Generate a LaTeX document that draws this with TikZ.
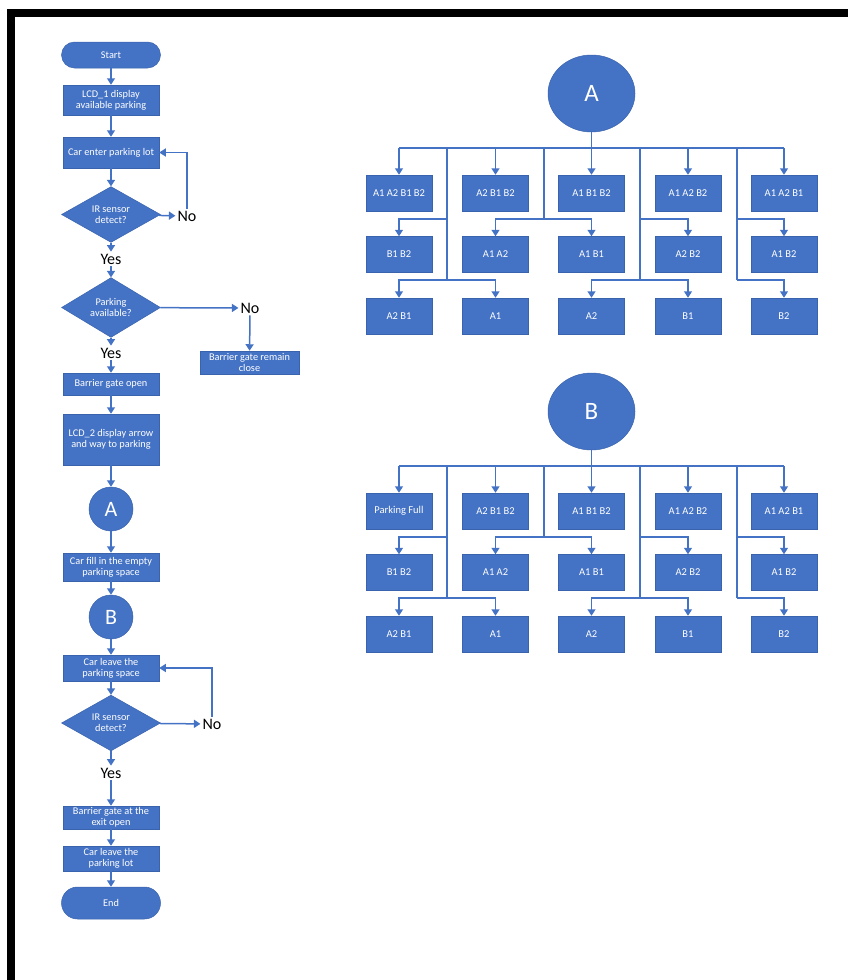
\documentclass[tikz,border=0pt]{standalone}
\usepackage{fontspec}
\setmainfont{Carlito}
\usetikzlibrary{shapes.geometric,arrows.meta}
\definecolor{obl}{HTML}{4472C4}
\definecolor{obd}{HTML}{3A63AD}
\begin{document}
\begin{tikzpicture}[x=1pt,y=-1pt,
  box/.style={fill=obl,draw=obd,line width=0.5pt,text=white,font=\fontsize{10.3}{11}\selectfont,align=center,inner sep=0.5pt,minimum width=96pt},
  term/.style={box,rounded corners=13pt,minimum width=99pt,minimum height=26pt},
  dec/.style={diamond,fill=obl,draw=obd,line width=0.5pt,text=white,font=\fontsize{10.3}{11}\selectfont,align=center,inner sep=0pt,minimum width=99pt,minimum height=51pt},
  circ/.style={circle,fill=obl,draw=obd,line width=0.5pt,text=white,inner sep=0pt,minimum size=44pt,font=\fontsize{22}{24}\selectfont},
  tell/.style={ellipse,fill=obl,draw=obd,line width=0.5pt,text=white,inner sep=0pt,minimum width=87pt,minimum height=77pt,font=\fontsize{25}{28}\selectfont},
  lab/.style={font=\fontsize{16}{18}\selectfont,text=black,inner sep=2pt},
  con/.style={draw=obl,line width=1.5pt},
  arr/.style={con,-{Triangle[length=6.5pt,width=8pt]}},
  tbox/.style={box,minimum width=66pt,minimum height=36pt,font=\fontsize{10.5}{12}\selectfont}
]
\useasboundingbox (0,0) rectangle (848,980);
% frame
\fill[black] (7,9) rectangle (848,17);
\fill[black] (7,9) rectangle (15,980);

% ---------- flowchart ----------
\node[term] (start) at (111,55) {Start};
\node[box,minimum height=30pt] (lcd1) at (111,100) {LCD\_1 display\\available parking};
\node[box,minimum height=31pt] (enter) at (111,152.5) {Car enter parking lot};
\node[dec] (ir1) at (111,214.5) {IR sensor\\detect?};
\node[lab] (no1) at (187,216) {No};
\node[lab] (yes1) at (111,259) {Yes};
\node[dec] (park) at (111,307.5) {Parking\\available?};
\node[lab] (no2) at (250,308) {No};
\node[box,minimum width=99pt,minimum height=23pt] (remain) at (249.5,362.5) {Barrier gate remain\\close};
\node[lab] (yes2) at (111,353) {Yes};
\node[box,minimum height=22pt] (gate) at (111,384) {Barrier gate open};
\node[box,minimum height=51pt] (lcd2) at (111,439.5) {LCD\_2 display arrow\\and way to parking};
\node[circ] (fa) at (111,509) {A};
\node[box,minimum height=28pt] (fill) at (111,567) {Car fill in the empty\\parking space};
\node[circ] (fb) at (111,617) {B};
\node[box,minimum height=26pt] (leave) at (111,668) {Car leave the\\parking space};
\node[dec] (ir2) at (111,723) {IR sensor\\detect?};
\node[lab] (no3) at (212,724) {No};
\node[lab] (yes3) at (111,773) {Yes};
\node[box,minimum height=23pt] (exit) at (111,817.5) {Barrier gate at the\\exit open};
\node[box,minimum height=25pt] (lot) at (111,858.5) {Car leave the\\parking lot};
\node[term,minimum height=32pt,rounded corners=16pt] (end) at (111,903) {End};

\draw[arr] (start) -- (lcd1);
\draw[arr] (lcd1) -- (enter);
\draw[arr] (enter) -- (ir1);
\draw[arr] (ir1) -- (no1);
\draw[arr] (no1.north) |- (enter.east);
\draw[arr] (ir1) -- (yes1);
\draw[arr] (yes1) -- (park);
\draw[arr] (park) -- (no2);
\draw[arr] (no2) -- (remain);
\draw[arr] (park) -- (yes2);
\draw[arr] (yes2) -- (gate);
\draw[arr] (gate) -- (lcd2);
\draw[arr] (lcd2) -- (fa);
\draw[arr] (fa) -- (fill);
\draw[arr] (fill) -- (fb);
\draw[arr] (fb) -- (leave);
\draw[arr] (leave) -- (ir2);
\draw[arr] (ir2) -- (no3);
\draw[arr] (no3.north) |- (leave.east);
\draw[arr] (ir2) -- (yes3);
\draw[arr] (yes3) -- (exit);
\draw[arr] (exit) -- (lot);
\draw[arr] (lot) -- (end);

% ---------- trees ----------
\foreach \tn/\dy/\first in {A/0/{A1 A2 B1 B2},B/318/{Parking Full}}{
\begin{scope}[shift={(0,\dy)}]
  \node[tell] (\tn root) at (591.5,93.5) {\tn};
  \foreach \c/\x/\la/\lb/\lc in {1/399/\first/B1 B2/A2 B1,2/495.5/A2 B1 B2/A1 A2/A1,3/591.5/A1 B1 B2/A1 B1/A2,4/688/A1 A2 B2/A2 B2/B1,5/784/A1 A2 B1/A1 B2/B2}{
    \node[tbox] (\tn r1c\c) at (\x,193) {\la};
    \node[tbox] (\tn r2c\c) at (\x,254.5) {\lb};
    \node[tbox] (\tn r3c\c) at (\x,316) {\lc};
  }
  \coordinate (\tn bus) at (591.5,148);
  \coordinate (\tn j1) at (447,148);
  \coordinate (\tn j2) at (544,148);
  \coordinate (\tn j3) at (640,148);
  \coordinate (\tn j4) at (737,148);
  \coordinate (\tn m) at (0,219);
  \coordinate (\tn n) at (0,280);
  \draw[con] (\tn root) -- (\tn bus);
  \draw[con] (\tn r1c1 |- \tn bus) -- (\tn r1c5 |- \tn bus);
  \foreach \c in {1,...,5}{\draw[arr] (\tn r1c\c |- \tn bus) -- (\tn r1c\c);}
  % trunk 1
  \draw[con] (\tn j1) -- (\tn j1 |- \tn n);
  \draw[arr] (\tn j1 |- \tn m) -| (\tn r2c1);
  \draw[arr] (\tn j1 |- \tn n) -| (\tn r3c1);
  \draw[arr] (\tn j1 |- \tn n) -| (\tn r3c2);
  % trunk 2
  \draw[con] (\tn j2) -- (\tn j2 |- \tn m);
  \draw[arr] (\tn j2 |- \tn m) -| (\tn r2c2);
  \draw[arr] (\tn j2 |- \tn m) -| (\tn r2c3);
  % trunk 3
  \draw[con] (\tn j3) -- (\tn j3 |- \tn n);
  \draw[arr] (\tn j3 |- \tn m) -| (\tn r2c4);
  \draw[arr] (\tn j3 |- \tn n) -| (\tn r3c3);
  \draw[arr] (\tn j3 |- \tn n) -| (\tn r3c4);
  % trunk 4
  \draw[con] (\tn j4) -- (\tn j4 |- \tn n);
  \draw[arr] (\tn j4 |- \tn m) -| (\tn r2c5);
  \draw[arr] (\tn j4 |- \tn n) -| (\tn r3c5);
\end{scope}
}
\end{tikzpicture}
\end{document}
